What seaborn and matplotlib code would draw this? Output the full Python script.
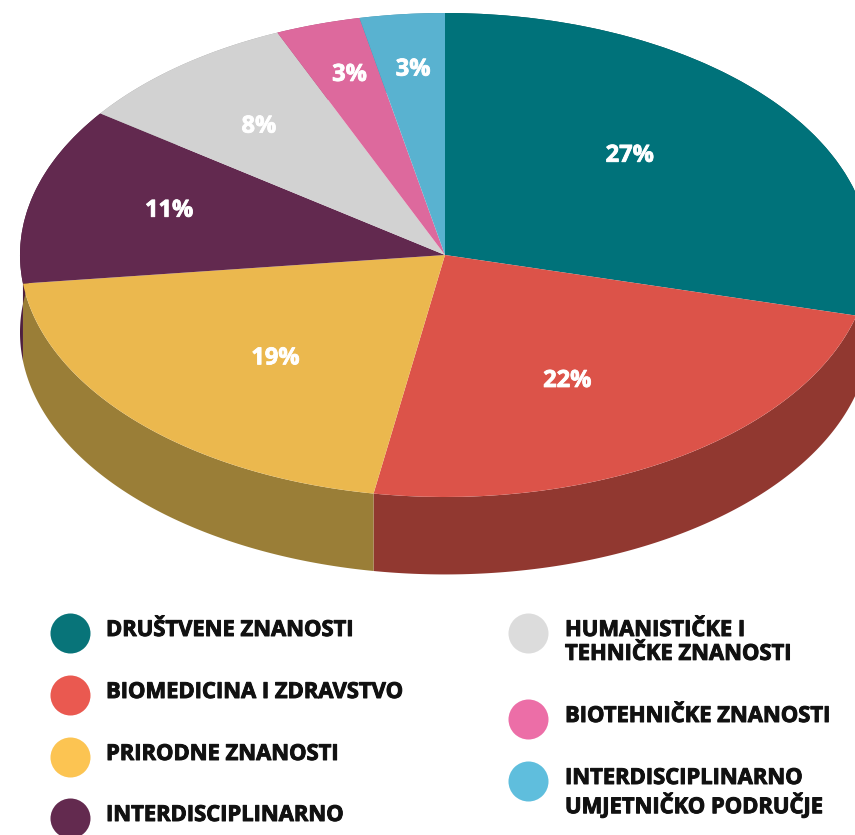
import numpy as np
import seaborn as sns
import matplotlib.pyplot as plt
import matplotlib.patheffects as pe

# podaci
categories = ["DRUŠTVENE ZNANOSTI", "BIOMEDICINA I ZDRAVSTVO", "PRIRODNE ZNANOSTI",
              "INTERDISCIPLINARNO", "HUMANISTIČKE I\nTEHNIČKE ZNANOSTI",
              "BIOTEHNIČKE ZNANOSTI", "INTERDISCIPLINARNO\nUMJETNIČKO PODRUČJE"]
shares = [27, 22, 19, 11, 8, 3, 3]

# boje
top_colors = ["#00727A", "#DC5349", "#EBB84E", "#62294F", "#D2D2D2", "#DD699D", "#59B2D0"]
side_colors = ["#00545A", "#913830", "#9A7E37", "#4E1F3E", "#A8A8A8", "#A84E77", "#3F8AA3"]
legend_colors = ["#087479", "#EA5950", "#FCC452", "#632A4F", "#DCDCDC", "#EC6EA7", "#5FBEDD"]
# položaj postotaka (udio radijusa po x i y)
label_rx = [0.55, 0.53, 0.55, 0.67, 0.70, 0.75, 0.74]
label_ry = [0.67, 0.62, 0.62, 0.73, 0.68, 0.78, 0.77]

sns.set_theme(style="white")
plt.rcParams['font.family'] = ['Open Sans', 'DejaVu Sans']

W, H = 855, 835
fig = plt.figure(figsize=(W / 100, H / 100), dpi=100)
ax = fig.add_axes([0, 0, 1, 1])

total = sum(shares)
wedges, _, pct_texts = ax.pie(
    shares, colors=top_colors, startangle=90, counterclock=False, radius=1,
    wedgeprops=dict(linewidth=0),
    autopct=lambda p: f"{round(p * total / 100)}%",
    textprops=dict(color="white", fontsize=17, fontweight="bold"))

# bočna strana (3D efekt)
depth = 0.32
for w, c in zip(wedges, side_colors):
    t = np.radians(np.linspace(w.theta1, w.theta2, 200))
    xs = np.concatenate([np.cos(t), np.cos(t)[::-1]])
    ys = np.concatenate([np.sin(t), np.sin(t)[::-1] - depth])
    ax.fill(xs, ys, color=c, lw=0, zorder=0.5)

for w, txt, rx_, ry_ in zip(wedges, pct_texts, label_rx, label_ry):
    mid = np.radians((w.theta1 + w.theta2) / 2)
    txt.set_position((rx_ * np.cos(mid), ry_ * np.sin(mid)))
    txt.set_ha("center")
    txt.set_va("center")
    txt.set_path_effects([pe.withStroke(linewidth=0.6, foreground="white")])

# centar (445,255) px, radijusi 425 x 242 px
cx, cy, rx, ry = 445, 255, 425, 242
ax.set_aspect("auto")
ax.set_xlim(-cx / rx, (W - cx) / rx)
ax.set_ylim((cy - H) / ry, cy / ry)
ax.axis("off")

# legenda
lax = fig.add_axes([0, 0, 1, 1])
lax.set_xlim(0, W)
lax.set_ylim(H, 0)
lax.axis("off")
legend_rows = [(70, 106, 633), (70, 106, 695), (70, 106, 757), (70, 106, 818),
               (528, 565, 633), (528, 565, 719), (528, 565, 781)]
for (mx, tx, my), name, c in zip(legend_rows, categories, legend_colors):
    lax.scatter([mx], [my], s=830, color=c, linewidths=0)
    lax.text(tx, my - 13, name, fontsize=15.8, fontweight="bold", color="#111111",
             ha="left", va="top", linespacing=1.18,
             path_effects=[pe.withStroke(linewidth=0.7, foreground="#111111")])

fig.savefig("out.png", dpi=100)
